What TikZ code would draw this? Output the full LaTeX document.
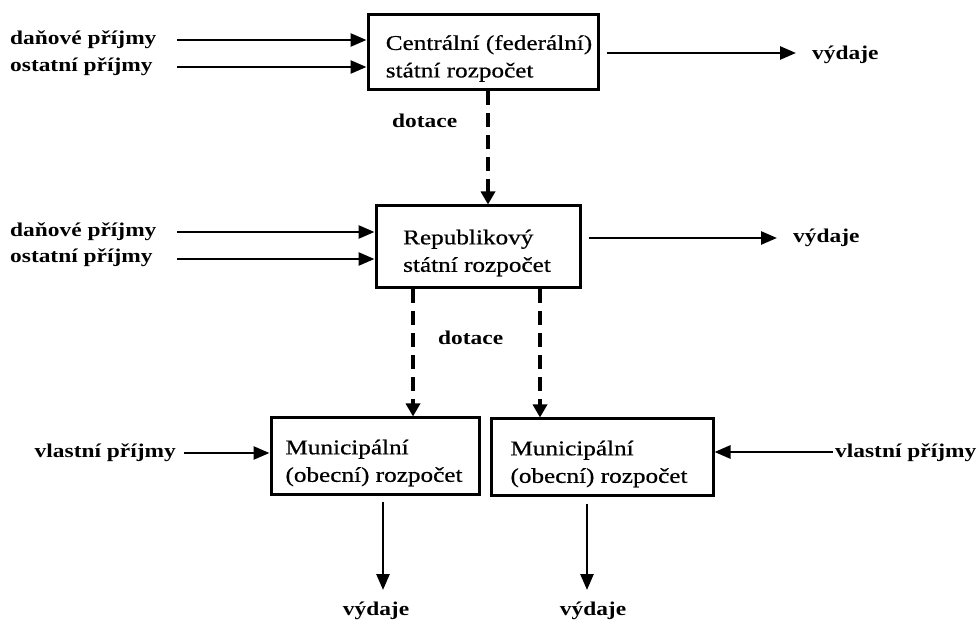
\documentclass[tikz,border=0pt]{standalone}
\usepackage{fontspec}
\setmainfont[FakeStretch=1.2]{Liberation Serif}
\newfontfamily\boxfont[FakeStretch=1.2,FakeBold=0.6]{Liberation Serif}
\usetikzlibrary{arrows.meta}
\begin{document}
\begin{tikzpicture}[x=1pt,y=-1pt,
  budget/.style={draw, line width=3pt, inner sep=0pt},
  btext/.style={inner sep=0pt, align=left,
    font=\boxfont\fontsize{21}{27.5}\selectfont},
  lbl/.style={inner sep=0pt, font=\fontsize{19.5}{23}\selectfont\bfseries},
  arr/.style={line width=2.7pt, -{Triangle[length=16pt,width=13pt]}},
  grant/.style={line width=4pt, dash pattern=on 14pt off 8pt,
    -{Triangle[length=13pt,width=14pt]}}]
\useasboundingbox (0,0) rectangle (978,620);

% budgets
\node[budget, minimum width=230pt, minimum height=75pt] (c) at (483,52.5) {};
\node[budget, minimum width=204pt, minimum height=82pt] (r) at (478,247) {};
\node[budget, minimum width=208pt, minimum height=76pt] (ml) at (375,456) {};
\node[budget, minimum width=222pt, minimum height=76pt] (mr) at (602,457) {};
\node[btext] (ct) at ([xshift=6pt,yshift=-6pt]c.center)
  {Centrální (federální)\\státní rozpočet};
\node[btext] (rt) at ([xshift=-1pt,yshift=-6pt]r.center)
  {Republikový\\státní rozpočet};
\node[btext] (mlt) at ([xshift=-1pt,yshift=-7pt]ml.center)
  {Municipální\\(obecní) rozpočet};
\node[btext] (mrt) at ([xshift=-3pt,yshift=-7pt]mr.center)
  {Municipální\\(obecní) rozpočet};

% revenue and expenditure labels
\node[lbl, anchor=base west] (dp1) at (10,45) {daňové příjmy};
\node[lbl, anchor=base west] (os1) at (10,72) {ostatní příjmy};
\node[lbl, anchor=base west] (dp2) at (10,237) {daňové příjmy};
\node[lbl, anchor=base west] (os2) at (10,263) {ostatní příjmy};
\node[lbl, anchor=base east] (vl1) at (176,457) {vlastní příjmy};
\node[lbl, anchor=base west] (vl2) at (835,457) {vlastní příjmy};
\node[lbl, anchor=base west] (v1) at (812,60) {výdaje};
\node[lbl, anchor=base west] (v2) at (793,243) {výdaje};
\node[lbl, anchor=base] (v3) at (376,615) {výdaje};
\node[lbl, anchor=base] (v4) at (593,615) {výdaje};
\node[lbl, anchor=base west] (d1) at (392,128) {dotace};
\node[lbl, anchor=base west] (d2) at (438,345) {dotace};

% start points of the revenue arrows
\coordinate (s1) at (177,40);
\coordinate (s2) at (177,67);
\coordinate (s3) at (177,232);
\coordinate (s4) at (177,259);
\coordinate (s5) at (184,453);
\coordinate (s6) at (833,452);

% revenues
\draw[arr] (s1) -- (s1 -| c.west);
\draw[arr] (s2) -- (s2 -| c.west);
\draw[arr] (s3) -- (s3 -| r.west);
\draw[arr] (s4) -- (s4 -| r.west);
\draw[arr] (s5) -- (s5 -| ml.west);
\draw[arr] (s6) -- (s6 -| mr.east);

% expenditures
\coordinate (e1) at ([xshift=7pt]c.east |- 0,53);
\coordinate (e2) at ([xshift=7pt]r.east |- 0,238);
\draw[arr] (e1) -- ([xshift=-16pt]e1 -| v1.west);
\draw[arr] (e2) -- ([xshift=-16pt]e2 -| v2.west);
\coordinate (e3) at ([yshift=-6pt]ml.south -| 383,0);
\coordinate (e4) at ([yshift=-7pt]mr.south -| 587,0);
\draw[arr] (e3) -- (383,590);
\draw[arr] (e4) -- (587,590);

% grants
\draw[grant] ([xshift=5pt]c.south) -- ([xshift=5pt]c.south |- r.north);
\draw[grant] (r.south -| 413,0) -- (ml.north -| 413,0);
\draw[grant] (r.south -| 540,0) -- (mr.north -| 540,0);
\end{tikzpicture}
\end{document}
